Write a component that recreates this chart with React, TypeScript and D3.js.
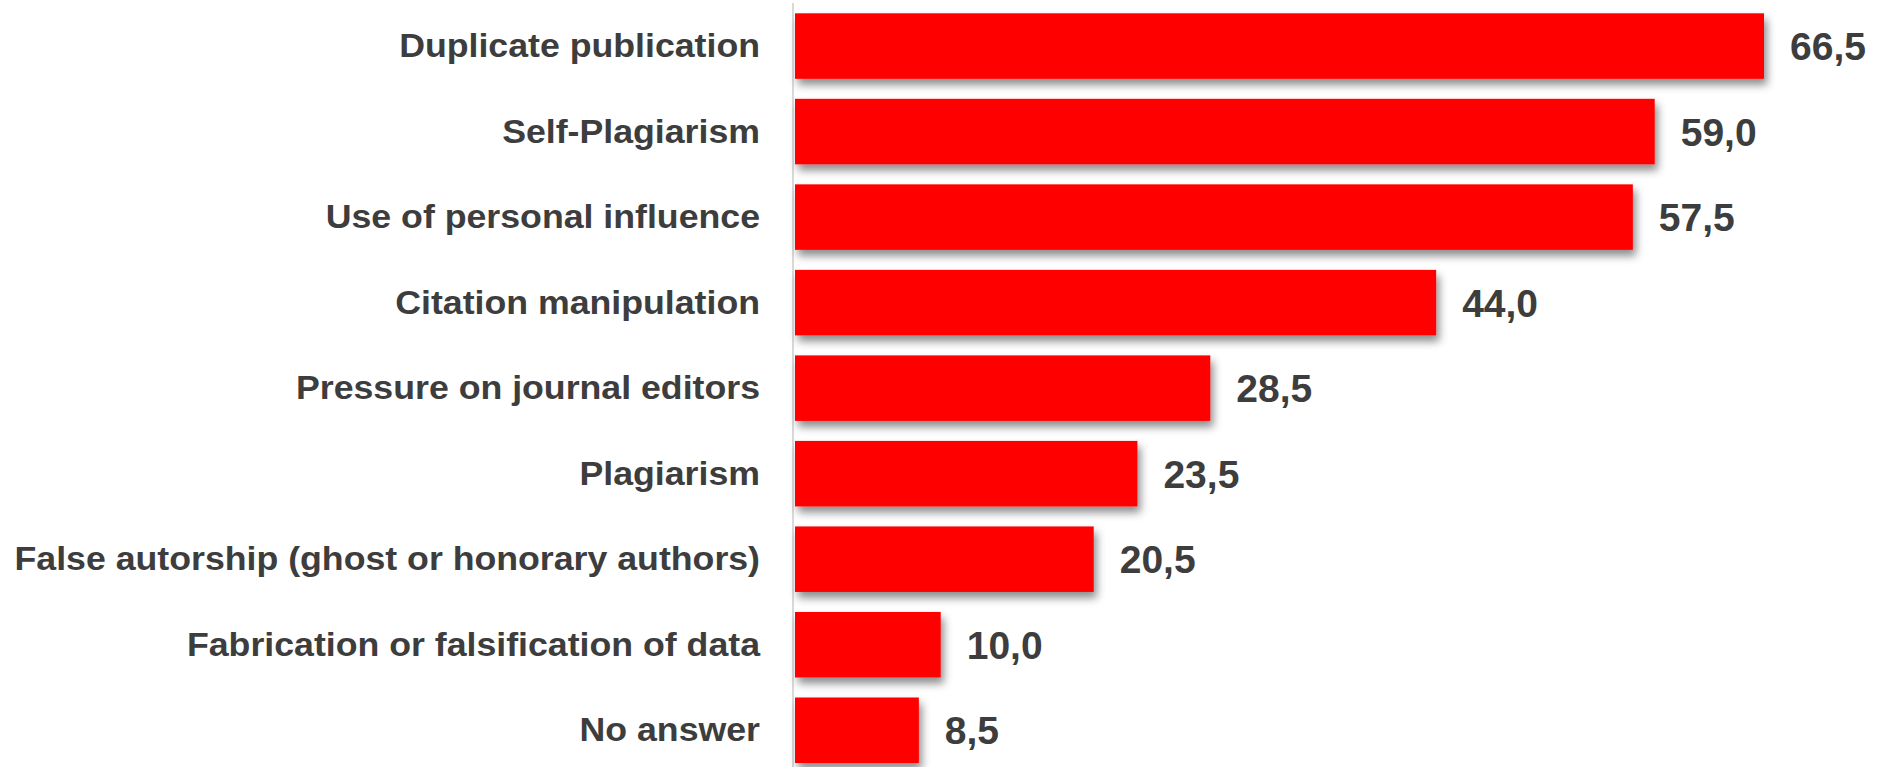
import React from "react";
import * as d3 from "d3";

const categories = [
  "Duplicate publication",
  "Self-Plagiarism",
  "Use of personal influence",
  "Citation manipulation",
  "Pressure on journal editors",
  "Plagiarism",
  "False autorship (ghost or honorary authors)",
  "Fabrication or falsification of data",
  "No answer",
];
const values = [66.5, 59.0, 57.5, 44.0, 28.5, 23.5, 20.5, 10.0, 8.5];
const valueLabels = ["66,5", "59,0", "57,5", "44,0", "28,5", "23,5", "20,5", "10,0", "8,5"];

const W = 1882;
const H = 767;

export default function App() {
  const x = d3.scaleLinear().domain([0, 66.5]).range([795, 1764]);
  const y = d3
    .scaleBand<string>()
    .domain(categories)
    .range([13.3, 763])
    .paddingInner(0.234)
    .paddingOuter(0);
  const bw = y.bandwidth();
  const textColor = "#3d3d3d";
  const font = "'Liberation Sans', Arial, sans-serif";

  return (
    <svg
      width={W}
      height={H}
      style={{ position: "absolute", left: 0, top: 0, background: "#fff" }}
    >
      <defs>
        <filter id="shadow" x="-5%" y="-30%" width="115%" height="170%">
          <feDropShadow dx="3" dy="6" stdDeviation="4" floodColor="#000" floodOpacity="0.45" />
        </filter>
      </defs>
      <line x1={793} x2={793} y1={3} y2={H} stroke="#d9d9d9" strokeWidth={2} />
      {categories.map((c, i) => {
        const yy = y(c)!;
        const cy = yy + bw / 2;
        return (
          <g key={c}>
            <rect
              x={x(0)}
              y={yy}
              width={x(values[i]) - x(0)}
              height={bw}
              fill="#ff0000"
              filter="url(#shadow)"
            />
            <text
              transform={`translate(760,${cy + 11}) scale(1.082,1)`}
              textAnchor="end"
              fontFamily={font}
              fontWeight="bold"
              fontSize={33}
              fill={textColor}
            >
              {c}
            </text>
            <text
              x={x(values[i]) + 26}
              y={cy + 14}
              textAnchor="start"
              fontFamily={font}
              fontWeight="bold"
              fontSize={39}
              fill={textColor}
            >
              {valueLabels[i]}
            </text>
          </g>
        );
      })}
    </svg>
  );
}
